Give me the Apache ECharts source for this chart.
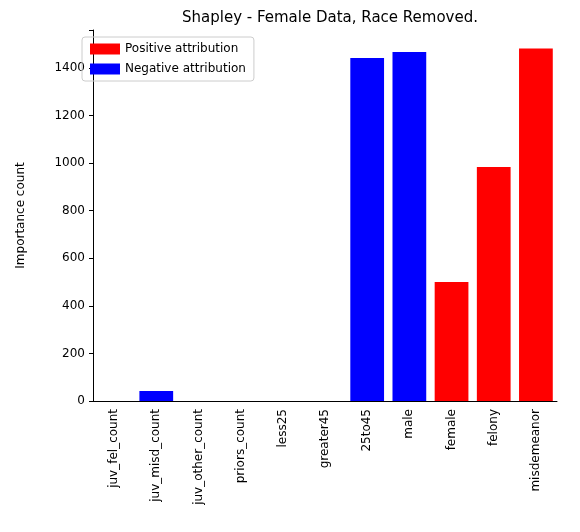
<!DOCTYPE html>
<html><head><meta charset="utf-8">
<script src="https://cdn.jsdelivr.net/npm/echarts@6/dist/echarts.min.js"></script>
<style>html,body{margin:0;background:#fff}#c{width:580px;height:532px}</style>
</head><body><div id="c"></div>
<script>
const categories = ["juv_fel_count","juv_misd_count","juv_other_count","priors_count","less25","greater45","25to45","male","female","felony","misdemeanor"];
const positiveValues = [0,0,0,0,0,0,0,0,500,984,1482];
const negativeValues = [0,42,0,0,0,0,1442,1467,0,0,0];
const yTicks = [0,200,400,600,800,1000,1200,1400];
const chart = echarts.init(document.getElementById('c'));
const font = 'DejaVu Sans';
chart.setOption({
  animation:false,
  textStyle:{fontFamily:font},
  title:{text:'Shapley - Female Data, Race Removed.',left:325,top:6,textAlign:'center',textStyle:{fontFamily:font,fontWeight:'normal',fontSize:15,color:'#000'}},
  legend:{left:82,top:37,orient:'vertical',itemWidth:30,itemHeight:11,itemGap:8,padding:[6,8],borderColor:'#ccc',borderWidth:1,borderRadius:3,textStyle:{fontFamily:font,fontSize:12,color:'#000'},
    data:[{name:'Positive attribution',icon:'rect'},{name:'Negative attribution',icon:'rect'}]},
  grid:{left:93,right:23,top:30,bottom:131},
  xAxis:{type:'category',data:categories,axisTick:{alignWithLabel:true,length:4,lineStyle:{color:'#000'}},
    axisLine:{lineStyle:{color:'#000'}},axisLabel:{rotate:90,fontFamily:font,fontSize:12,color:'#000',interval:0,margin:8}},
  yAxis:{type:'value',min:0,max:1560,interval:200,name:'Importance count',nameLocation:'middle',nameGap:66,
    nameTextStyle:{fontFamily:font,fontSize:12,color:'#000'},
    axisLine:{show:true,lineStyle:{color:'#000'}},axisTick:{show:true,length:4,lineStyle:{color:'#000'}},splitLine:{show:false},
    axisLabel:{fontFamily:font,fontSize:12,color:'#000',formatter:v=>yTicks.includes(v)?String(v):''}},
  series:[
    {name:'Positive attribution',type:'bar',stack:'a',data:positiveValues,itemStyle:{color:'#ff0000'},barWidth:'80%'},
    {name:'Negative attribution',type:'bar',stack:'a',data:negativeValues,itemStyle:{color:'#0000ff'},barWidth:'80%'}
  ]
});
</script></body></html>
